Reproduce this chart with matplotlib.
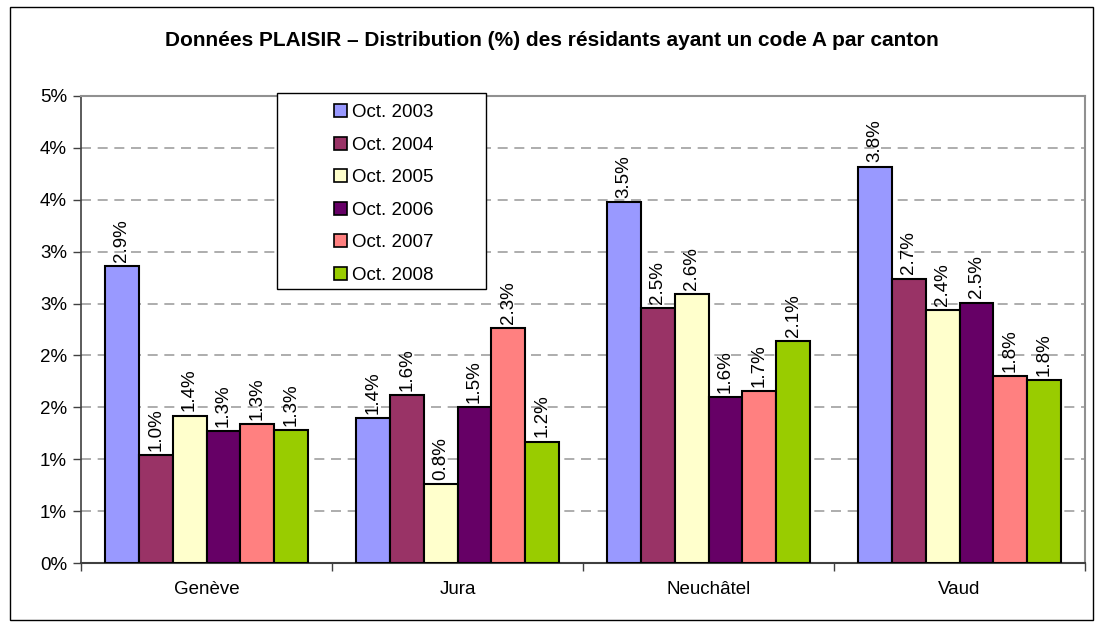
import matplotlib
matplotlib.use("Agg")
import matplotlib.pyplot as plt
from matplotlib.patches import Rectangle
import numpy as np

plt.rcParams['font.family'] = ['Liberation Sans', 'DejaVu Sans']

cantons = ["Genève", "Jura", "Neuchâtel", "Vaud"]
series = ["Oct. 2003", "Oct. 2004", "Oct. 2005", "Oct. 2006", "Oct. 2007", "Oct. 2008"]
oct2003 = [2.86, 1.40, 3.48, 3.82]
oct2004 = [1.04, 1.62, 2.46, 2.74]
oct2005 = [1.42, 0.76, 2.59, 2.44]
oct2006 = [1.27, 1.50, 1.60, 2.51]
oct2007 = [1.34, 2.26, 1.66, 1.80]
oct2008 = [1.28, 1.17, 2.14, 1.76]
values = [oct2003, oct2004, oct2005, oct2006, oct2007, oct2008]
colors = ["#9999FF", "#993366", "#FFFFCC", "#660066", "#FF8080", "#99CC00"]
yticks = [0, 0.5, 1, 1.5, 2, 2.5, 3, 3.5, 4, 4.5]
ytick_labels = ["0%", "1%", "1%", "2%", "2%", "3%", "3%", "4%", "4%", "5%"]
title = "Données PLAISIR – Distribution (%) des résidants ayant un code A par canton"

W, H = 1104, 628
fig = plt.figure(figsize=(W / 100, H / 100), dpi=100)
ax = fig.add_axes([81 / W, 1 - 563 / H, (1085 - 81) / W, (563 - 96) / H])

x = np.arange(len(cantons))
bw = 0.135
n = len(series)
fs = 13.5
for i, (vals, c, lab) in enumerate(zip(values, colors, series)):
    pos = x + (i - (n - 1) / 2) * bw
    ax.bar(pos, vals, width=bw, color=c, edgecolor="black", linewidth=1.5,
           label=lab, zorder=3)
    for xp, v in zip(pos, vals):
        ax.text(xp, v + 0.04, f"{v:.1f}%", rotation=90, ha="center", va="bottom",
                fontsize=fs, zorder=4)

ax.set_xlim(-0.5, len(cantons) - 0.5)
ax.set_ylim(0, 4.5)
ax.set_yticks(yticks)
ax.set_yticklabels(ytick_labels, fontsize=fs)
ax.set_xticks(x)
ax.set_xticklabels(cantons, fontsize=fs)
ax.tick_params(axis="x", which="major", length=0, pad=13)
ax.set_xticks(np.arange(-0.5, len(cantons), 1), minor=True)
ax.tick_params(axis="x", which="minor", length=6, width=1, color="#404040", direction="out")
ax.tick_params(axis="y", length=6, width=1, color="#404040", direction="out", pad=4)

ax.grid(axis="y", color="#A0A0A0", linestyle=(0, (6, 4)), linewidth=1.2, zorder=0)
ax.set_axisbelow(True)
for s in ["top", "right"]:
    ax.spines[s].set_color("#909090")
    ax.spines[s].set_linewidth(1.5)
ax.spines["left"].set_color("#404040")
ax.spines["bottom"].set_color("#404040")
ax.spines["left"].set_linewidth(1.2)
ax.spines["bottom"].set_linewidth(1.5)

fig.text(0.5, 1 - 40 / H, title, ha="center", va="center", fontsize=15, fontweight="bold")

# Legend box
fig.patches.append(Rectangle((277 / W, 1 - 289 / H), (486 - 277) / W, (289 - 93) / H,
                             transform=fig.transFigure, facecolor="white",
                             edgecolor="black", linewidth=1, zorder=5))
handles = [Rectangle((0, 0), 1, 1, facecolor=c, edgecolor="black", linewidth=1.2) for c in colors]
leg = fig.legend(handles, series, loc="center", bbox_to_anchor=(384 / W, 1 - 194 / H),
                 frameon=False, fontsize=fs, handlelength=0.7, handleheight=0.7,
                 handletextpad=0.25, labelspacing=0.82)
leg.set_zorder(6)

# Figure border
fig.patches.append(Rectangle((10 / W, 1 - 620 / H), (1093 - 10) / W, (620 - 7) / H,
                             transform=fig.transFigure, facecolor="none",
                             edgecolor="black", linewidth=1, zorder=0))

fig.savefig("out.png", dpi=100)
